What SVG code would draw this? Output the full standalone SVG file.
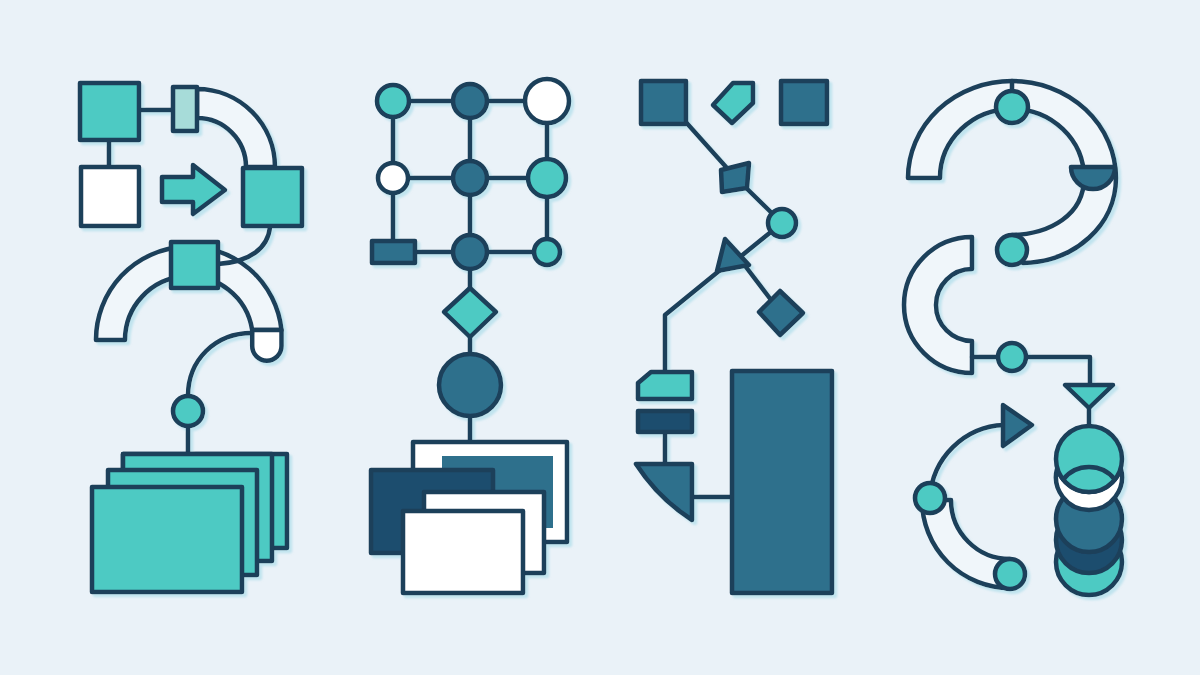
<svg xmlns="http://www.w3.org/2000/svg" width="1200" height="675" viewBox="0 0 1200 675">
<defs>
<filter id="sh" x="-20%" y="-20%" width="140%" height="140%">
<feDropShadow dx="3" dy="3" stdDeviation="1.2" flood-color="#9ED8E6" flood-opacity="0.55"/>
</filter>
<style>
.s{stroke:#1C3F5A;stroke-width:4.5;stroke-linejoin:round}
.t{fill:#4DCAC3}.d{fill:#2F6F8C}.n{fill:#1F4D6E}.w{fill:#FFFFFF}.b{fill:#F0F6FA}.l{fill:#A7DCD9}
.c{fill:none;stroke:#1C3F5A;stroke-width:4.5;stroke-linecap:round;stroke-linejoin:round}
</style>
</defs>
<rect width="1200" height="675" fill="#EAF2F8"/>
<g filter="url(#sh)">
<!-- bands -->
<g id="band-top-left"><path class="s b" d="M197,89 A78,78 0 0 1 275,167 L246,167 A49,49 0 0 0 197,118 Z"/></g>
<g id="band-big-left">
<path class="s b" d="M96,340 A93,93 0 0 1 281.5,330 L252.2,330 A64,64 0 0 0 125,340 Z"/>
<path class="s w" d="M252.2,330 L252.2,346 A14.65,14.65 0 0 0 281.5,346 L281.5,330 Z"/>
</g>
<g id="hook-right"><path class="s b" d="M908,178 A104,97 0 0 1 1116,178 C1116,225 1075,262 1023,263 L1012,250 L1012,235 C1050,234 1084,215 1084,178 A72,69 0 0 0 940,178 Z"/></g>
<g id="c-right"><path class="s b" d="M972,237 A68,68 0 0 0 972,373 L972,341 A36,36 0 0 1 972,269 Z"/></g>
<g id="band-bottom-right"><path class="s b" d="M922,500 A88,88 0 0 0 1010,588 L1010,559 A59,59 0 0 1 951,500 Z"/></g>

<g id="connectors">
<!-- column 1 -->
<path class="c" d="M139,110 H173"/>
<path class="c" d="M109,140 V167"/>
<path class="c" d="M270,227 C268,248 250,262 218,264"/>
<path class="c" d="M252,333 C215,333 188,360 188,396"/>
<path class="c" d="M188,426 V454"/>
<!-- column 2 -->
<path class="c" d="M393,101 H547"/>
<path class="c" d="M393,178 H547"/>
<path class="c" d="M415,252 H547"/>
<path class="c" d="M393,101 V240"/>
<path class="c" d="M470,101 V442"/>
<path class="c" d="M547,101 V252"/>
<!-- column 3 -->
<path class="c" d="M684,120 L735,177 L782,223 L740,257"/>
<path class="c" d="M733,250 L781,313"/>
<path class="c" d="M730,262 L665,315 V372"/>
<path class="c" d="M665,432 V463"/>
<path class="c" d="M692,497 H732"/>
<!-- column 4 -->
<path class="c" d="M1012,81 V92"/>
<path class="c" d="M972,357 H1090 V385"/>
<path class="c" d="M1089,408 V427"/>
<path class="c" d="M1004,425 A77,77 0 0 0 930,498"/>
</g>

<!-- column 1 nodes -->
<g id="sq1"><rect class="s t" x="80" y="83" width="59" height="57"/></g>
<g id="tab1"><rect class="s l" x="173" y="87" width="24" height="44"/></g>
<g id="sq-white"><rect class="s w" x="81" y="167" width="58" height="59"/></g>
<g id="arrow1"><path class="s t" d="M162,177 L193,177 L193,165 L225,190 L193,214 L193,202 L162,202 Z"/></g>
<g id="sq2"><rect class="s t" x="243" y="168" width="59" height="58"/></g>
<g id="sq3"><rect class="s t" x="171" y="242" width="47" height="46"/></g>
<g id="circ1"><circle class="s t" cx="188" cy="411" r="15"/></g>
<g id="stack1">
<rect class="s t" x="123" y="454" width="164" height="94"/>
<rect class="s t" x="123" y="454" width="149" height="107"/>
<rect class="s t" x="108" y="470" width="149" height="105"/>
<rect class="s t" x="92" y="487" width="150" height="105"/>
</g>

<!-- column 2 nodes -->
<g id="g11"><circle class="s t" cx="393" cy="101" r="16"/></g>
<g id="g12"><circle class="s d" cx="470" cy="101" r="17"/></g>
<g id="g13"><circle class="s w" cx="547" cy="101" r="22"/></g>
<g id="g21"><circle class="s w" cx="393" cy="178" r="15"/></g>
<g id="g22"><circle class="s d" cx="470" cy="178" r="17"/></g>
<g id="g23"><circle class="s t" cx="547" cy="178" r="19"/></g>
<g id="g31"><rect class="s d" x="372" y="241" width="43" height="22"/></g>
<g id="g32"><circle class="s d" cx="470" cy="252" r="17"/></g>
<g id="g33"><circle class="s t" cx="547" cy="252" r="13"/></g>
<g id="dia2"><path class="s t" d="M470,288 L496,312 L470,337 L444,312 Z"/></g>
<g id="bigcirc2"><circle class="s d" cx="470" cy="385" r="31"/></g>
<g id="stack2">
<rect class="s w" x="413" y="442" width="154" height="100"/>
<rect class="d" x="442" y="456" width="111" height="72"/>
<rect class="s n" x="371" y="470" width="122" height="83"/>
<rect class="s w" x="424" y="492" width="120" height="81"/>
<rect class="s w" x="403" y="511" width="120" height="82"/>
</g>

<!-- column 3 nodes -->
<g id="sqA"><rect class="s d" x="641" y="81" width="45" height="43"/></g>
<g id="tagTop"><path class="s t" d="M713,105 L733,83 L753,83 L753,103 L732,123 Z"/></g>
<g id="sqB"><rect class="s d" x="781" y="81" width="46" height="43"/></g>
<g id="dia3"><path class="s d" d="M721,170 L749,163 L747,188 L722,192 Z"/></g>
<g id="circ3"><circle class="s t" cx="782" cy="223" r="14"/></g>
<g id="tri3"><path class="s d" d="M725,239 L749,265 L717,271 Z"/></g>
<g id="dia3b"><path class="s d" d="M759,312 L780,291 L803,313 L780,335 Z"/></g>
<g id="tag3"><path class="s t" d="M638,383 L651,372 L692,372 L692,399 L638,399 Z"/></g>
<g id="bar3"><rect class="s n" x="638" y="411" width="54" height="21"/></g>
<g id="sector3"><path class="s d" d="M636,464 L692,464 L692,520 Q658,498 636,464 Z"/></g>
<g id="bigrect3"><rect class="s d" x="732" y="371" width="100" height="222"/></g>

<!-- column 4 nodes -->
<g id="c4top"><circle class="s t" cx="1012" cy="107" r="16"/></g>
<g id="halfdisk"><path class="s d" d="M1071,167 H1115 A22,22 0 0 1 1071,167 Z"/></g>
<g id="c4hookend"><circle class="s t" cx="1012" cy="250" r="15"/></g>
<g id="c4mid"><circle class="s t" cx="1012" cy="357" r="14"/></g>
<g id="tri4"><path class="s t" d="M1065,385 L1113,385 L1089,408 Z"/></g>
<g id="arrow4"><path class="s d" d="M1003,405 L1032,425 L1003,446 Z"/></g>
<g id="c4left"><circle class="s t" cx="930" cy="498" r="15"/></g>
<g id="c4bottom"><circle class="s t" cx="1010" cy="574" r="15"/></g>
<g id="circstack">
<circle class="s t" cx="1089" cy="562" r="33"/>
<circle class="s n" cx="1089" cy="540" r="33"/>
<circle class="s d" cx="1089" cy="519" r="33"/>
<path class="s w" d="M1057.25,468 A33,33 0 1 0 1120.75,468 A33,33 0 0 1 1057.25,468 Z"/>
<circle class="s t" cx="1089" cy="459" r="33"/>
<path class="c" d="M1063.1,479.5 A33,33 0 0 1 1114.9,479.5"/>
</g>
</g>
</svg>
